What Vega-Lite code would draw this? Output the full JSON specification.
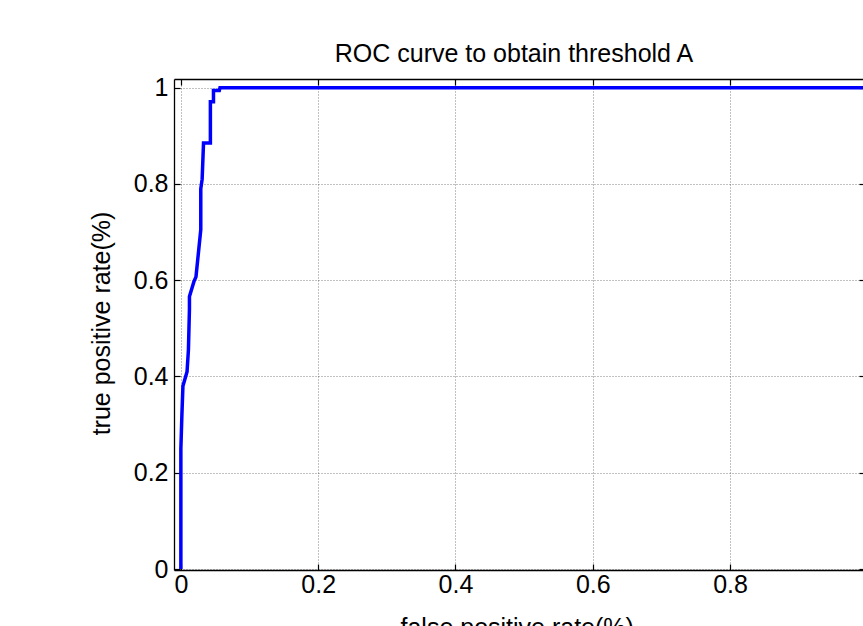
{
  "$schema": "https://vega.github.io/schema/vega-lite/v6.json",
  "width": 689,
  "height": 491,
  "autosize": {"type": "none"},
  "padding": {"left": 174, "top": 79, "right": 0, "bottom": 56},
  "background": "white",
  "title": {
    "text": "ROC curve to obtain threshold A",
    "font": "Liberation Sans",
    "fontSize": 25,
    "fontWeight": "normal",
    "color": "black",
    "anchor": "middle",
    "frame": "group",
    "baseline": "alphabetic",
    "offset": 17,
    "dx": -4.5,
    "dy": 28
  },
  "config": {
    "view": {"stroke": null},
    "axis": {
      "labelFont": "Liberation Sans",
      "titleFont": "Liberation Sans",
      "labelFontSize": 25,
      "titleFontSize": 25,
      "labelColor": "black",
      "titleColor": "black",
      "titleFontWeight": "normal",
      "domainColor": "black",
      "domainWidth": 1.3,
      "tickColor": "black",
      "tickWidth": 1.2,
      "gridColor": "#000000",
      "gridDash": [1, 2],
      "gridWidth": 0.7,
      "gridOpacity": 0.7
    }
  },
  "data": {
    "values": [
      {"i": 0, "fpr": 0, "tpr": 0},
      {"i": 1, "fpr": 0, "tpr": 0.25},
      {"i": 2, "fpr": 0.0015, "tpr": 0.32},
      {"i": 3, "fpr": 0.003, "tpr": 0.38},
      {"i": 4, "fpr": 0.009, "tpr": 0.41},
      {"i": 5, "fpr": 0.011, "tpr": 0.455},
      {"i": 6, "fpr": 0.0125, "tpr": 0.54},
      {"i": 7, "fpr": 0.0125, "tpr": 0.566},
      {"i": 8, "fpr": 0.019, "tpr": 0.597},
      {"i": 9, "fpr": 0.022, "tpr": 0.607},
      {"i": 10, "fpr": 0.029, "tpr": 0.705},
      {"i": 11, "fpr": 0.029, "tpr": 0.79},
      {"i": 12, "fpr": 0.031, "tpr": 0.81},
      {"i": 13, "fpr": 0.033, "tpr": 0.885},
      {"i": 14, "fpr": 0.043, "tpr": 0.885},
      {"i": 15, "fpr": 0.043, "tpr": 0.971},
      {"i": 16, "fpr": 0.0475, "tpr": 0.971},
      {"i": 17, "fpr": 0.0475, "tpr": 0.994},
      {"i": 18, "fpr": 0.056, "tpr": 0.994},
      {"i": 19, "fpr": 0.057, "tpr": 1.0},
      {"i": 20, "fpr": 1.0, "tpr": 1.0}
    ]
  },
  "layer": [
    {
      "mark": {"type": "line", "color": "#0000ff", "strokeWidth": 3.5, "clip": true, "strokeJoin": "miter"},
      "encoding": {
        "x": {
          "field": "fpr",
          "type": "quantitative",
          "scale": {"domain": [-0.01, 0.9936], "nice": false, "zero": false},
          "axis": {
            "orient": "bottom",
            "values": [0, 0.2, 0.4, 0.6, 0.8],
            "format": "~g",
            "grid": true,
            "tickSize": -6,
            "labelPadding": 8,
            "title": "false positive rate(%)",
            "titleX": 342.7,
            "titleY": 65.5,
            "titleBaseline": "alphabetic",
            "titleAlign": "center",
            "titleAnchor": null
          }
        },
        "y": {
          "field": "tpr",
          "type": "quantitative",
          "scale": {"domain": [-0.002, 1.018], "nice": false, "zero": false},
          "axis": {
            "orient": "left",
            "values": [0, 0.2, 0.4, 0.6, 0.8, 1],
            "format": "~g",
            "grid": true,
            "tickSize": -6,
            "labelPadding": 12,
            "title": "true positive rate(%)",
            "titleX": -65,
            "titleY": 244,
            "titleAngle": -90,
            "titleBaseline": "alphabetic",
            "titleAlign": "center",
            "titleAnchor": null
          }
        },
        "order": {"field": "i", "type": "quantitative"}
      }
    },
    {
      "mark": {"type": "line", "opacity": 0, "clip": true},
      "encoding": {
        "x": {
          "field": "fpr",
          "type": "quantitative",
          "scale": {"domain": [-0.01, 0.9936], "nice": false, "zero": false},
          "axis": {
            "orient": "top",
            "values": [0, 0.2, 0.4, 0.6, 0.8],
            "labels": false,
            "grid": false,
            "tickSize": -6,
            "title": null
          }
        },
        "y": {
          "field": "tpr",
          "type": "quantitative",
          "scale": {"domain": [-0.002, 1.018], "nice": false, "zero": false},
          "axis": {
            "orient": "right",
            "values": [0, 0.2, 0.4, 0.6, 0.8, 1],
            "labels": false,
            "grid": false,
            "domain": false,
            "tickSize": -4,
            "title": null
          }
        },
        "order": {"field": "i", "type": "quantitative"}
      }
    }
  ],
  "resolve": {"axis": {"x": "independent", "y": "independent"}}
}
